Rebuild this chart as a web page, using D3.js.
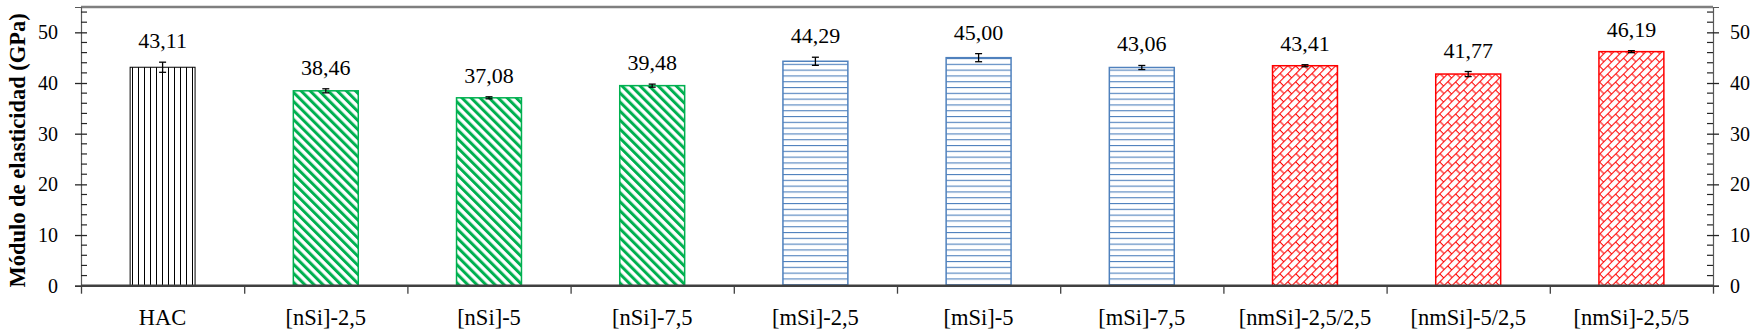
<!DOCTYPE html>
<html><head><meta charset="utf-8">
<script src="https://cdn.jsdelivr.net/npm/d3@7"></script>
<style>
html,body{margin:0;padding:0;background:#fff;}
svg{display:block;font-family:"Liberation Serif","Times New Roman",serif;}
</style></head>
<body><svg id="chart" width="1756" height="332"></svg>
<script>
const categories = ["HAC","[nSi]-2,5","[nSi]-5","[nSi]-7,5","[mSi]-2,5","[mSi]-5","[mSi]-7,5","[nmSi]-2,5/2,5","[nmSi]-5/2,5","[nmSi]-2,5/5"];
const values = [43.11,38.46,37.08,39.48,44.29,45.00,43.06,43.41,41.77,46.19];
const errors = [1.0,0.4,0.2,0.3,0.8,0.8,0.4,0.2,0.5,0.2];
const groups = ["HAC","nSi","nSi","nSi","mSi","mSi","mSi","nmSi","nmSi","nmSi"];
const yMajorTicks = [0,10,20,30,40,50];
const yMinorTicks = d3.range(0,56,2).filter(v => v % 10 !== 0);
const yTitle = "Módulo de elasticidad (GPa)";

const W = 1756, H = 332;
const m = {left:81, right:43, top:7, bottom:46.3};
const x0 = m.left, x1 = W - m.right, y0 = H - m.bottom, y1 = m.top;
const FONT = "Liberation Serif";

const svg = d3.select("#chart");
const defs = svg.append("defs");

const groupColor = {HAC:"#000000", nSi:"#00B050", mSi:"#4F81BD", nmSi:"#FF0000"};

// HAC: vertical lines
let p = defs.append("pattern").attr("id","pat-HAC").attr("patternUnits","userSpaceOnUse")
  .attr("width",6).attr("height",6);
p.append("rect").attr("width",6).attr("height",6).attr("fill","#fff");
p.append("line").attr("x1",0.5).attr("x2",0.5).attr("y1",0).attr("y2",6).attr("stroke","#000").attr("stroke-width",1);

// nSi: wide downward diagonal
p = defs.append("pattern").attr("id","pat-nSi").attr("patternUnits","userSpaceOnUse")
  .attr("width",6.4).attr("height",10).attr("patternTransform","rotate(-45)");
p.append("rect").attr("width",6.4).attr("height",10).attr("fill","#fff");
p.append("rect").attr("x",0).attr("width",3).attr("height",10).attr("fill","#00B050");

// mSi: horizontal lines
p = defs.append("pattern").attr("id","pat-mSi").attr("patternUnits","userSpaceOnUse")
  .attr("width",10).attr("height",5.8);
p.append("rect").attr("width",10).attr("height",5.8).attr("fill","#fff");
p.append("line").attr("x1",0).attr("x2",10).attr("y1",0.5).attr("y2",0.5).attr("stroke","#4F81BD").attr("stroke-width",1.2);

// nmSi: diagonal brick
const bw = 5.66, bh = 11.3;
p = defs.append("pattern").attr("id","pat-nmSi").attr("patternUnits","userSpaceOnUse")
  .attr("width",2*bw).attr("height",bh).attr("patternTransform","rotate(45)");
p.append("rect").attr("width",2*bw).attr("height",bh).attr("fill","#fff");
p.append("line").attr("x1",0.5).attr("x2",0.5).attr("y1",0).attr("y2",bh).attr("stroke","#FF0000").attr("stroke-width",1.1);
p.append("line").attr("x1",bw+0.5).attr("x2",bw+0.5).attr("y1",0).attr("y2",bh).attr("stroke","#FF0000").attr("stroke-width",1.1);
p.append("line").attr("x1",0).attr("x2",bw).attr("y1",0.5).attr("y2",0.5).attr("stroke","#FF0000").attr("stroke-width",1.1);
p.append("line").attr("x1",bw).attr("x2",2*bw).attr("y1",bh/2).attr("y2",bh/2).attr("stroke","#FF0000").attr("stroke-width",1.1);

const x = d3.scaleBand().domain(categories).range([x0,x1]).paddingInner(0.596).paddingOuter(0.298);
const xEdge = d3.scaleLinear().domain([0,categories.length]).range([x0,x1]);
const y = d3.scaleLinear().domain([0,55]).range([y0,y1]);

// top frame line
svg.append("line").attr("x1",x0).attr("x2",x1).attr("y1",y1).attr("y2",y1)
  .attr("stroke","#7f7f7f").attr("stroke-width",2.5);

// bars
const data = categories.map((c,i)=>({c, v:values[i], e:errors[i], g:groups[i]}));
svg.append("g").selectAll("rect").data(data).join("rect")
  .attr("x", d=>x(d.c)+0.5).attr("width", x.bandwidth()-1)
  .attr("y", d=>y(d.v)).attr("height", d=>y(0)-y(d.v))
  .attr("fill", d=>`url(#pat-${d.g})`)
  .attr("stroke", d=>groupColor[d.g]).attr("stroke-width", d=>d.g==="HAC"?1:1.5);

// error bars
const eb = svg.append("g").attr("stroke","#000").attr("stroke-width",1.3);
data.forEach(d=>{
  const cx = x(d.c)+x.bandwidth()/2;
  eb.append("line").attr("x1",cx).attr("x2",cx).attr("y1",y(d.v+d.e)).attr("y2",y(d.v-d.e));
  eb.append("line").attr("x1",cx-3.5).attr("x2",cx+3.5).attr("y1",y(d.v+d.e)).attr("y2",y(d.v+d.e));
  eb.append("line").attr("x1",cx-3.5).attr("x2",cx+3.5).attr("y1",y(d.v-d.e)).attr("y2",y(d.v-d.e));
});

// value labels
const fmt = v => d3.format(".2f")(v).replace(".",",");
svg.append("g").selectAll("text").data(data).join("text")
  .attr("x", d=>x(d.c)+x.bandwidth()/2)
  .attr("y", d=>y(d.v+d.e)-14)
  .attr("text-anchor","middle").attr("font-size",22).attr("font-family",FONT).attr("fill","#000")
  .text(d=>fmt(d.v));

// left axis
const gl = svg.append("g").attr("transform",`translate(${x0},0)`);
gl.call(d3.axisLeft(y).tickValues(yMajorTicks).tickSize(6).tickPadding(17));
gl.call(g=>g.select(".domain").attr("stroke","#595959").attr("stroke-width",1.2));
gl.selectAll(".tick line").attr("x2",6).attr("x1",-6).attr("stroke","#262626").attr("stroke-width",1.3);
gl.selectAll(".tick text").attr("font-size",20).attr("font-family",FONT).attr("fill","#000");
gl.selectAll(".minor").data(yMinorTicks).join("line").attr("class","minor")
  .attr("x1",0).attr("x2",6).attr("y1",d=>y(d)).attr("y2",d=>y(d)).attr("stroke","#262626").attr("stroke-width",1.2);

// right axis
const gr = svg.append("g").attr("transform",`translate(${x1},0)`);
gr.call(d3.axisRight(y).tickValues(yMajorTicks).tickSize(6).tickPadding(11));
gr.call(g=>g.select(".domain").attr("stroke","#595959").attr("stroke-width",1.2));
gr.selectAll(".tick line").attr("x1",-6).attr("x2",6).attr("stroke","#262626").attr("stroke-width",1.3);
gr.selectAll(".tick text").attr("font-size",20).attr("font-family",FONT).attr("fill","#000");
gr.selectAll(".minor").data(yMinorTicks).join("line").attr("class","minor")
  .attr("x1",-6).attr("x2",0).attr("y1",d=>y(d)).attr("y2",d=>y(d)).attr("stroke","#262626").attr("stroke-width",1.2);

// x axis: boundary ticks
const gx = svg.append("g").attr("transform",`translate(0,${y0})`);
gx.call(d3.axisBottom(xEdge).tickValues(d3.range(categories.length+1)).tickSize(8).tickFormat(""));
gx.select(".domain").remove();
gx.selectAll(".tick line").attr("stroke","#404040").attr("stroke-width",1.3);
svg.append("line").attr("x1",x0).attr("x2",x1).attr("y1",y0).attr("y2",y0)
  .attr("stroke","#404040").attr("stroke-width",2.5);

// category labels
const gc = svg.append("g").attr("transform",`translate(0,${y0})`);
gc.call(d3.axisBottom(x).tickSize(0).tickPadding(0));
gc.select(".domain").remove();
gc.selectAll(".tick text").attr("font-size",22.5).attr("font-family",FONT).attr("fill","#000")
  .attr("dy",null).attr("y",39);

// y title
svg.append("text").attr("transform",`translate(25,${(y0+y1)/2+4}) rotate(-90)`)
  .attr("text-anchor","middle").attr("font-size",22.5).attr("font-weight","bold").attr("font-family",FONT).attr("fill","#000")
  .text(yTitle);
</script></body></html>
